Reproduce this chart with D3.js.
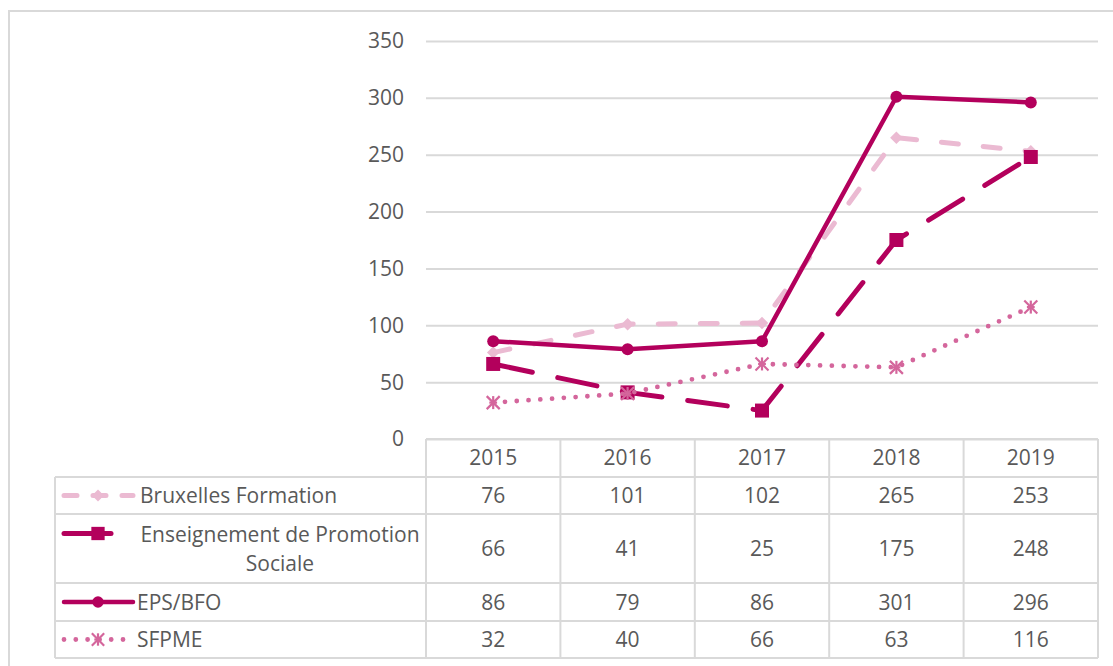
<!DOCTYPE html>
<html>
<head>
<meta charset="utf-8">
<script src="https://cdn.jsdelivr.net/npm/d3@7"></script>
<style>
  body { margin: 0; background: #fff; }
  svg text { font-family: "Open Sans", "Liberation Sans", sans-serif; fill: #595959; }
</style>
</head>
<body>
<script>
// Chart data
const years = ["2015", "2016", "2017", "2018", "2019"];
const bruxellesFormation = [76, 101, 102, 265, 253];
const promotionSociale = [66, 41, 25, 175, 248];
const epsBfo = [86, 79, 86, 301, 296];
const sfpme = [32, 40, 66, 63, 116];
const yTicks = [0, 50, 100, 150, 200, 250, 300, 350];

const width = 1113;
const height = 666;
const fontSize = 21;

const series = [
  { name: "Bruxelles Formation", lines: ["Bruxelles Formation"], values: bruxellesFormation,
    color: "#ebbad2", dash: "17,25", width: 5, marker: "diamond" },
  { name: "Enseignement de Promotion Sociale", lines: ["Enseignement de Promotion", "Sociale"], values: promotionSociale,
    color: "#b3005c", dash: "40,26", width: 5, marker: "square" },
  { name: "EPS/BFO", lines: ["EPS/BFO"], values: epsBfo,
    color: "#b3005c", dash: null, width: 4.5, marker: "circle" },
  { name: "SFPME", lines: ["SFPME"], values: sfpme,
    color: "#d4669c", dash: "0,11.8", width: 4.8, marker: "star" }
];

const svg = d3.select("body").append("svg")
  .attr("width", width)
  .attr("height", height);

// outer frame
svg.append("rect")
  .attr("x", 9).attr("y", 11)
  .attr("width", width + 20).attr("height", height)
  .attr("fill", "none").attr("stroke", "#d9d9d9").attr("stroke-width", 2);

// scales
const x = d3.scaleBand().domain(years).range([426, 1098]);
const y = d3.scaleLinear().domain([0, 350]).range([439, 41]);
const cx = d => x(d) + x.bandwidth() / 2;

// gridlines
svg.append("g")
  .attr("transform", "translate(426,0)")
  .call(d3.axisLeft(y).tickValues(yTicks).tickSize(-(1098 - 426)).tickFormat(""))
  .call(g => g.select(".domain").remove())
  .call(g => g.selectAll("line").attr("stroke", "#d9d9d9").attr("stroke-width", 2));

// y labels
svg.append("g")
  .attr("transform", "translate(404,0)")
  .call(d3.axisLeft(y).tickValues(yTicks).tickSize(0).tickPadding(0))
  .call(g => g.select(".domain").remove())
  .call(g => g.selectAll("text")
    .attr("font-size", fontSize).attr("fill", "#595959").attr("dy", "0.33em")
    .style("font-family", "'Open Sans', sans-serif"));

function drawMarker(g, type, color, px, py, scale) {
  const s = scale || 1;
  if (type === "circle") {
    g.append("circle").attr("cx", px).attr("cy", py).attr("r", 6 * s).attr("fill", color);
  } else if (type === "square") {
    g.append("rect").attr("x", px - 7 * s).attr("y", py - 7 * s)
      .attr("width", 14 * s).attr("height", 14 * s).attr("fill", color);
  } else if (type === "diamond") {
    g.append("path")
      .attr("d", d3.symbol().type(d3.symbolDiamond2).size(100 * s * s)())
      .attr("transform", `translate(${px},${py})`).attr("fill", color);
  } else if (type === "star") {
    const r = 6.5 * s;
    const p = g.append("g").attr("transform", `translate(${px},${py})`)
      .attr("stroke", color).attr("stroke-width", 2.2);
    p.append("line").attr("x1", 0).attr("y1", -r).attr("x2", 0).attr("y2", r);
    p.append("line").attr("x1", -r).attr("y1", -r).attr("x2", r).attr("y2", r);
    p.append("line").attr("x1", -r).attr("y1", r).attr("x2", r).attr("y2", -r);
    p.append("line").attr("x1", -r * 0.6).attr("y1", 0).attr("x2", r * 0.6).attr("y2", 0);
  }
}

// series lines and markers
const line = d3.line().x((d, i) => cx(years[i])).y(d => y(d));
series.forEach(s => {
  const g = svg.append("g");
  g.append("path")
    .datum(s.values)
    .attr("d", line)
    .attr("fill", "none")
    .attr("stroke", s.color)
    .attr("stroke-width", s.width)
    .attr("stroke-linecap", "round")
    .attr("stroke-linejoin", "round")
    .attr("stroke-dasharray", s.dash);
  s.values.forEach((v, i) => drawMarker(g, s.marker, s.color, cx(years[i]), y(v)));
});

// data table
const rowTops = [439, 477, 514, 583, 621, 658];
const tableLeft = 55;
const grid = svg.append("g").attr("stroke", "#d9d9d9").attr("stroke-width", 2).attr("fill", "none");

// horizontal lines
rowTops.forEach((ry, i) => {
  grid.append("line")
    .attr("x1", i === 0 ? 426 : tableLeft).attr("x2", 1098)
    .attr("y1", ry).attr("y2", ry);
});
// vertical lines
grid.append("line").attr("x1", tableLeft).attr("x2", tableLeft).attr("y1", rowTops[1]).attr("y2", rowTops[5]);
years.forEach(yr => {
  grid.append("line").attr("x1", x(yr)).attr("x2", x(yr)).attr("y1", rowTops[0]).attr("y2", rowTops[5]);
});
grid.append("line").attr("x1", 1098).attr("x2", 1098).attr("y1", rowTops[0]).attr("y2", rowTops[5]);

// header years
svg.append("g").selectAll("text").data(years).join("text")
  .attr("x", d => cx(d)).attr("y", 457)
  .attr("dy", "0.36em").attr("text-anchor", "middle").attr("font-size", fontSize)
  .text(d => d);

// rows
series.forEach((s, r) => {
  const top = rowTops[r + 1], bottom = rowTops[r + 2];
  const mid = (top + bottom) / 2;
  const keyY = s.lines.length > 1 ? mid - 15 : mid;
  const kg = svg.append("g");
  const keyEnd = s.marker === "square" ? 111 : 133;
  kg.append("line")
    .attr("x1", 64).attr("x2", keyEnd).attr("y1", keyY).attr("y2", keyY)
    .attr("stroke", s.color).attr("stroke-width", s.width)
    .attr("stroke-linecap", "round")
    .attr("stroke-dasharray", s.marker === "square" ? null : (s.marker === "diamond" ? "13,16" : s.dash));
  drawMarker(kg, s.marker, s.color, 98, keyY, 0.95);

  if (s.lines.length > 1) {
    s.lines.forEach((t, k) => {
      svg.append("text")
        .attr("x", 280).attr("y", mid + (k - 0.5) * 29)
        .attr("dy", "0.36em").attr("text-anchor", "middle").attr("font-size", fontSize)
        .text(t);
    });
  } else {
    svg.append("text")
      .attr("x", s.marker === "diamond" ? 140 : 137).attr("y", mid)
      .attr("dy", "0.36em").attr("font-size", fontSize)
      .text(s.lines[0]);
  }

  svg.append("g").selectAll("text").data(s.values).join("text")
    .attr("x", (d, i) => cx(years[i])).attr("y", mid)
    .attr("dy", "0.36em").attr("text-anchor", "middle").attr("font-size", fontSize)
    .text(d => d);
});
</script>
</body>
</html>
